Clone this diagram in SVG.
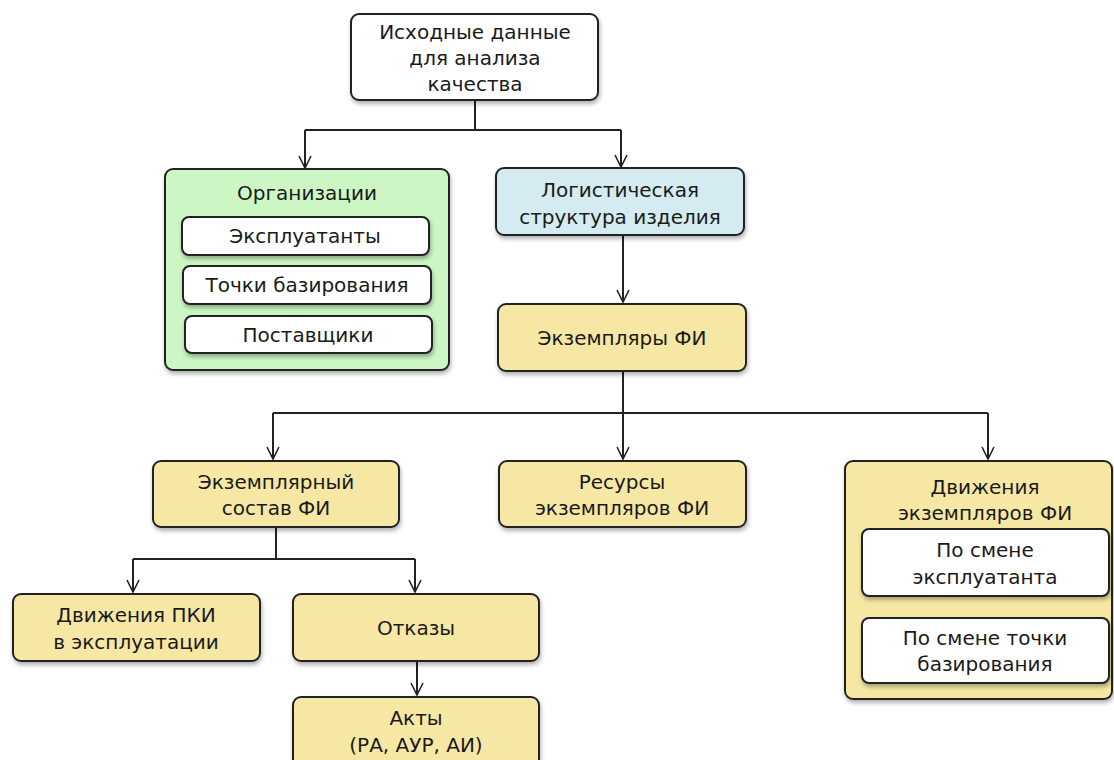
<svg xmlns="http://www.w3.org/2000/svg" width="1114" height="760" viewBox="0 0 1114 760">
<style>
.b{stroke:#222;stroke-width:2;filter:url(#sh)}
.w{fill:#fff}
.y{fill:#f6e8a4}
.g{fill:#ccf7c4}
.c{fill:#d3ebf1}
.t{font-family:"DejaVu Sans","Liberation Sans",Arial,sans-serif;font-size:20px;fill:#1a1a1a;text-anchor:middle}
.l{fill:none;stroke:#222;stroke-width:2}
</style>
<defs>
<filter id="sh" x="-10%" y="-10%" width="130%" height="140%">
<feDropShadow dx="1" dy="3" stdDeviation="2" flood-color="#000" flood-opacity="0.3"/>
</filter>
<marker id="a" markerWidth="14" markerHeight="14" refX="13" refY="7" orient="auto" markerUnits="userSpaceOnUse" viewBox="0 0 14 14">
<path d="M1,1 L13,7 L1,13" fill="none" stroke="#222" stroke-width="1.6"/>
</marker>
</defs>
<g id="connectors">
<path class="l" d="M475,100 V130 M305,130 H621"/>
<path class="l" d="M305,130 V168" marker-end="url(#a)"/>
<path class="l" d="M621,130 V167" marker-end="url(#a)"/>
<path class="l" d="M623,235 V302" marker-end="url(#a)"/>
<path class="l" d="M623,371 V413 M273,413 H988"/>
<path class="l" d="M273,413 V459" marker-end="url(#a)"/>
<path class="l" d="M623,413 V459" marker-end="url(#a)"/>
<path class="l" d="M988,413 V459" marker-end="url(#a)"/>
<path class="l" d="M276,527 V559 M133,559 H415"/>
<path class="l" d="M133,559 V592" marker-end="url(#a)"/>
<path class="l" d="M415,559 V592" marker-end="url(#a)"/>
<path class="l" d="M417,661 V695" marker-end="url(#a)"/>
</g>
<g id="n-root">
<rect class="b w" x="351" y="14" width="247" height="86" rx="8"/>
<text class="t" x="475" y="39">Исходные данные</text>
<text class="t" x="475" y="65">для анализа</text>
<text class="t" x="475" y="91">качества</text>
</g>
<g id="n-org">
<rect class="b g" x="165" y="169" width="284" height="201" rx="8"/>
<text class="t" x="307" y="200">Организации</text>
</g>
<g id="n-expl">
<rect class="b w" x="182" y="217" width="247" height="38" rx="7"/>
<text class="t" x="305" y="243">Эксплуатанты</text>
</g>
<g id="n-points">
<rect class="b w" x="183" y="266" width="248" height="38" rx="7"/>
<text class="t" x="307" y="292">Точки базирования</text>
</g>
<g id="n-supp">
<rect class="b w" x="185" y="316" width="247" height="37" rx="7"/>
<text class="t" x="308" y="342">Поставщики</text>
</g>
<g id="n-log">
<rect class="b c" x="496" y="168" width="248" height="67" rx="8"/>
<text class="t" x="620" y="197">Логистическая</text>
<text class="t" x="620" y="224">структура изделия</text>
</g>
<g id="n-ex">
<rect class="b y" x="498" y="304" width="248" height="67" rx="8"/>
<text class="t" x="622" y="345">Экземпляры ФИ</text>
</g>
<g id="n-sost">
<rect class="b y" x="153" y="461" width="246" height="66" rx="8"/>
<text class="t" x="276" y="489">Экземплярный</text>
<text class="t" x="276" y="515">состав ФИ</text>
</g>
<g id="n-res">
<rect class="b y" x="499" y="461" width="247" height="66" rx="8"/>
<text class="t" x="622" y="489">Ресурсы</text>
<text class="t" x="622" y="515">экземпляров ФИ</text>
</g>
<g id="n-mov">
<rect class="b y" x="845" y="461" width="267" height="238" rx="8"/>
<text class="t" x="985" y="494">Движения</text>
<text class="t" x="985" y="520">экземпляров ФИ</text>
</g>
<g id="n-mov1">
<rect class="b w" x="862" y="529" width="247" height="67" rx="7"/>
<text class="t" x="985" y="557">По смене</text>
<text class="t" x="985" y="584">эксплуатанта</text>
</g>
<g id="n-mov2">
<rect class="b w" x="862" y="618" width="247" height="65" rx="7"/>
<text class="t" x="985" y="645">По смене точки</text>
<text class="t" x="985" y="671">базирования</text>
</g>
<g id="n-pki">
<rect class="b y" x="13" y="594" width="247" height="67" rx="8"/>
<text class="t" x="136" y="622">Движения ПКИ</text>
<text class="t" x="136" y="649">в эксплуатации</text>
</g>
<g id="n-otk">
<rect class="b y" x="293" y="594" width="246" height="67" rx="8"/>
<text class="t" x="416" y="635">Отказы</text>
</g>
<g id="n-akt">
<rect class="b y" x="293" y="697" width="246" height="80" rx="8"/>
<text class="t" x="416" y="725">Акты</text>
<text class="t" x="416" y="752">(РА, АУР, АИ)</text>
</g>
</svg>
